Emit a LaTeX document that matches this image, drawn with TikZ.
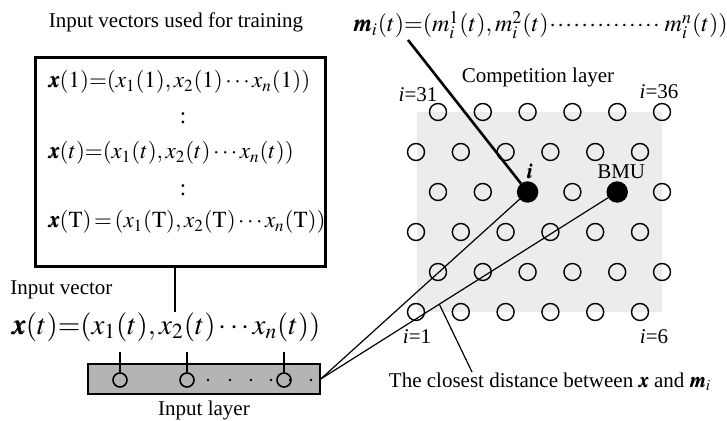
\documentclass[tikz,border=0pt]{standalone}
\usepackage{mathptmx}
\usepackage{fontspec}
\setmainfont{Liberation Serif}
\usepackage{bm}
\usetikzlibrary{positioning,calc}
\definecolor{LayerGray}{RGB}{180,180,180}
\definecolor{MapGray}  {RGB}{236,236,236}
\newcommand{\dotrun}[1]{\hbox to #1{\leaders\hbox to 4pt{\hss$\cdot$\hss}\hfill}}

\begin{document}
\begin{tikzpicture}[x=0.5pt,y=-0.5pt,
  txt/.style={font=\fontsize{10.5}{12}\selectfont,inner sep=1pt},
  eq/.style={font=\fontsize{11.5}{14}\selectfont,inner sep=0pt},
  unit/.style={circle,draw,line width=0.7pt,minimum size=8.5pt,inner sep=0pt},
  winner/.style={unit,fill=black,minimum size=10pt},
  inunit/.style={circle,draw,line width=0.8pt,minimum size=7pt,inner sep=0pt},
  link/.style={line width=0.6pt}]
  \useasboundingbox (0,0) rectangle (727,421);
  %% Training vectors
  \node[txt] (ttl) at (176,22) {Input vectors used for training};
  \node[draw,line width=1.5pt,minimum width=145pt,minimum height=104.5pt]
       (train) at (180,162.5) {};
  \node[eq,anchor=west] (x1) at (48,82)
       {$\bm{x}(1){=}(x_1(1),x_2(1)\cdots x_n(1))$};
  \node[eq] (d1) at (183,118) {:};
  \node[eq,anchor=west] (xt) at (48,153)
       {$\bm{x}(t){=}(x_1(t),x_2(t)\cdots x_n(t))$};
  \node[eq] (d2) at (183,190) {:};
  \node[eq,anchor=west] (xT) at (48,222)
       {$\bm{x}(\mathrm{T})\,{=}\,(x_1(\mathrm{T}),x_2(\mathrm{T})\cdots x_n(\mathrm{T}))$};
  %% Input vector
  \node[txt,anchor=west] (ivl) at (8,290) {Input vector};
  \node[inner sep=0pt,font=\fontsize{14.5}{17}\selectfont] (xvec) at (166,327)
       {$\bm{x}(t){=}(x_1(t),x_2(t)\cdots x_n(t))$};
  \draw[line width=1.3pt] ($(train.south)+(-5,0)$) -- ($(train.south |- xvec.north)+(-5,0)$);
  %% Input layer
  \node[draw,fill=LayerGray,line width=0.7pt,minimum width=116pt,minimum height=15pt]
       (inl) at (204,379) {};
  \foreach \x/\n in {120/a,187/b,284/c}{
    \node[inunit] (in\n) at (\x,380) {};
    \draw[line width=0.6pt] (in\n.north) -- ++(0,-20);
  }
  \foreach \x in {208,230,251,271,290,311}
    \fill (\x,380) circle (0.7pt);
  \node[txt,below=2pt of inl] (inll) {Input layer};
  %% Competition layer
  \fill[MapGray] (417,112) rectangle (662,312);
  \foreach \r in {1,...,6}{
    \foreach \c in {1,...,6}{
      \pgfmathsetmacro\ux{(mod(\r,2)==1 ? 438 : 416)+44.8*(\c-1)}
      \pgfmathsetmacro\uy{112+40*(\r-1)}
      \def\sty{unit}
      \ifnum\r=3 \ifnum\c=3 \def\sty{winner}\fi \ifnum\c=5 \def\sty{winner}\fi\fi
      \node[\sty] (u\r\c) at (\ux,\uy) {};
    }
  }
  \node[txt] (cl) at (538,77) {Competition layer};
  \node[txt] (l31) at (418,95) {\textit{i}=31};
  \node[txt] (l36) at (659,92) {\textit{i}=36};
  \node[txt] (l1) at (417,337) {\textit{i}=1};
  \node[txt] (l6) at (654,337) {\textit{i}=6};
  \node[txt,above=0pt of u33,xshift=1pt] (li) {$\bm{i}$};
  \node[txt,above=0pt of u35,xshift=2pt] (lbmu) {BMU};
  %% Reference vector
  \node[inner sep=0pt,anchor=west,font=\fontsize{12}{14}\selectfont] (meq) at (353,25)
       {$\bm{m}_i(t){=}(m_i^1(t),m_i^2(t)\dotrun{58pt}m_i^n(t))$};
  \coordinate (mtip) at (408,40);
  \draw[line width=1.3pt] (mtip) -- (u33);
  %% Distances
  \draw[link] (inl.east) -- (u33);
  \draw[link] (inl.east) -- (u35);
  \node[txt] (dist) at (550,382)
       {The closest distance between $\bm{x}$ and $\bm{m}_i$};
  \coordinate (dtip) at (472,372);
  \draw[link] (dtip) -- ($(inl.east)!0.4!(u35)$);
\end{tikzpicture}
\end{document}
